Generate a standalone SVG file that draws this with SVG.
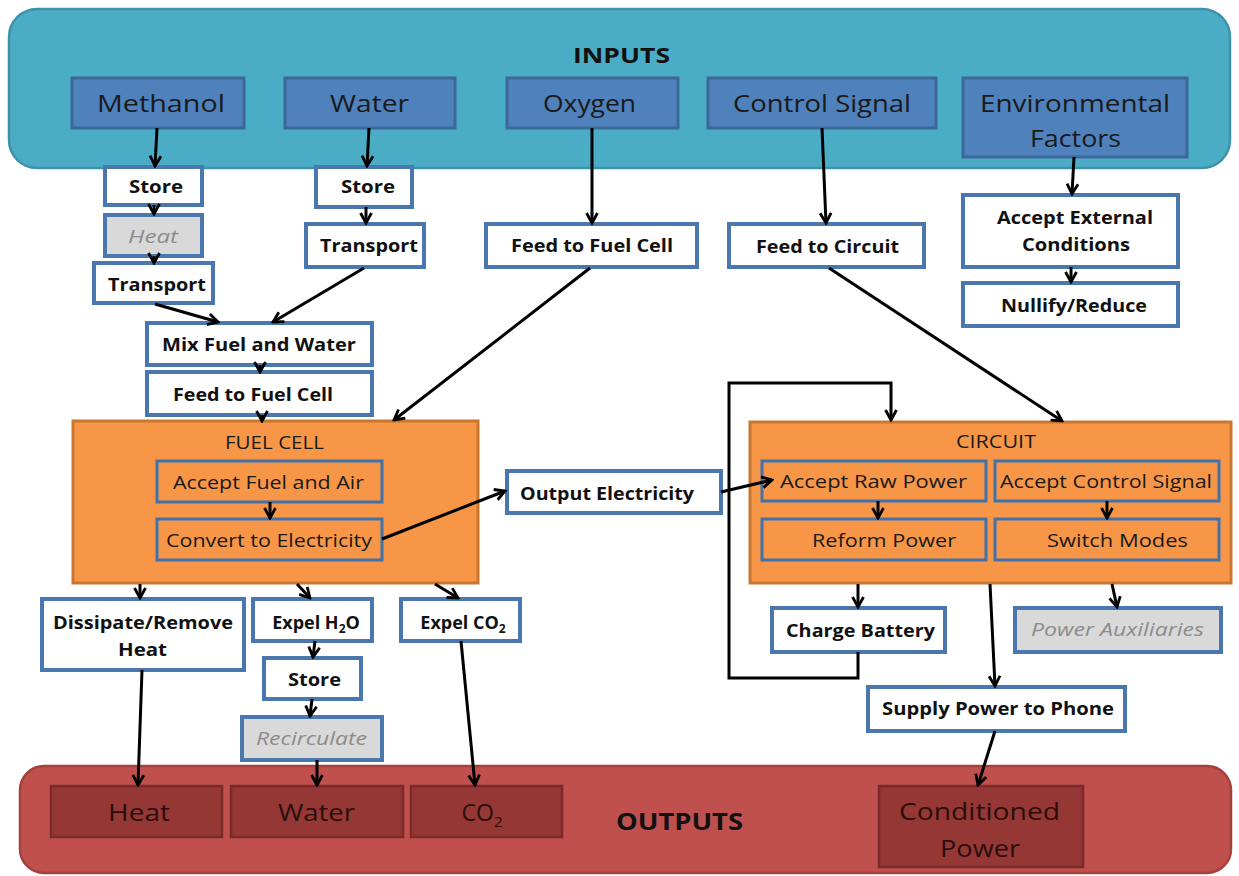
<svg xmlns="http://www.w3.org/2000/svg" width="1239" height="876" viewBox="0 0 1239 876">
<style>
.bg{fill:#fff}
.cin{fill:#4BACC6;stroke:#3E93AB;stroke-width:2.5}
.cout{fill:#C0504D;stroke:#A5403D;stroke-width:2.5}
.ib{fill:#4F81BD;stroke:#3C6799;stroke-width:3}
.pb{fill:#fff;stroke:#4A77AE;stroke-width:4}
.gb{fill:#D9D9D9;stroke:#4A77AE;stroke-width:4}
.ob{fill:#F79646;stroke:#C97730;stroke-width:3}
.sb{fill:#F79646;stroke:#4272AC;stroke-width:3}
.rb{fill:#953735;stroke:#7A2A28;stroke-width:2.5}
text{font-family:"Open Sans","Liberation Sans",sans-serif;text-anchor:middle}
.ti{font-size:22px;font-weight:bold;fill:#111}
.it{font-size:24px;fill:#1a1a1a}
.pt{font-size:18px;font-weight:bold;fill:#111}
.gt{font-size:18px;font-style:italic;fill:#8c8c8c}
.st{font-size:19px;fill:#1a1a1a}
.ht{font-size:18px;fill:#1a1a1a}
.rt{font-size:23px;fill:#2a0e0d}
.cn{fill:none;stroke:#000;stroke-width:3}
</style>
<defs>
<marker id="ah" viewBox="0 0 14 14" refX="12" refY="7" markerWidth="14" markerHeight="14" markerUnits="userSpaceOnUse" orient="auto">
<path d="M2,1.5 L12,7 L2,12.5" fill="none" stroke="#000" stroke-width="2.8"/>
</marker>
</defs>
<rect class="bg" x="0" y="0" width="1239" height="876"/>

<g id="inputs">
<rect class="cin" x="9" y="9" width="1221" height="159" rx="28"/>
<text class="ti" x="621.5" y="63" textLength="97" lengthAdjust="spacingAndGlyphs">INPUTS</text>
</g>
<g id="outputs">
<rect class="cout" x="20" y="766" width="1211" height="107" rx="24"/>
<text class="ti" x="679.5" y="830" style="font-size:24px" textLength="127" lengthAdjust="spacingAndGlyphs">OUTPUTS</text>
</g>

<g id="methanol"><rect class="ib" x="72" y="78" width="172" height="50"/><text class="it" x="161" y="112" textLength="128" lengthAdjust="spacingAndGlyphs">Methanol</text></g>
<g id="water-in"><rect class="ib" x="285" y="78" width="170" height="50"/><text class="it" x="369.5" y="112" textLength="79" lengthAdjust="spacingAndGlyphs">Water</text></g>
<g id="oxygen"><rect class="ib" x="507" y="78" width="171" height="50"/><text class="it" x="589.5" y="112" textLength="93" lengthAdjust="spacingAndGlyphs">Oxygen</text></g>
<g id="control-signal"><rect class="ib" x="708" y="78" width="228" height="50"/><text class="it" x="822" y="112" textLength="178" lengthAdjust="spacingAndGlyphs">Control Signal</text></g>
<g id="env-factors"><rect class="ib" x="963" y="78" width="224" height="79"/><text class="it" x="1075" y="112" textLength="190" lengthAdjust="spacingAndGlyphs">Environmental</text><text class="it" x="1075.5" y="147" textLength="91" lengthAdjust="spacingAndGlyphs">Factors</text></g>

<g id="store1"><rect class="pb" x="105" y="167" width="97" height="38"/><text class="pt" x="156" y="193" textLength="54" lengthAdjust="spacingAndGlyphs">Store</text></g>
<g id="heat1"><rect class="gb" x="105" y="215" width="97" height="41"/><text class="gt" x="153" y="243" textLength="50" lengthAdjust="spacingAndGlyphs">Heat</text></g>
<g id="transport1"><rect class="pb" x="94" y="263" width="119" height="40"/><text class="pt" x="157" y="291" textLength="98" lengthAdjust="spacingAndGlyphs">Transport</text></g>
<g id="store2"><rect class="pb" x="316" y="167" width="96" height="40"/><text class="pt" x="368" y="193" textLength="54" lengthAdjust="spacingAndGlyphs">Store</text></g>
<g id="transport2"><rect class="pb" x="306" y="224" width="118" height="43"/><text class="pt" x="369" y="252" textLength="98" lengthAdjust="spacingAndGlyphs">Transport</text></g>
<g id="feed-fc1"><rect class="pb" x="486" y="224" width="211" height="43"/><text class="pt" x="592" y="252" textLength="162" lengthAdjust="spacingAndGlyphs">Feed to Fuel Cell</text></g>
<g id="feed-circuit"><rect class="pb" x="729" y="224" width="195" height="43"/><text class="pt" x="827.5" y="253" textLength="143" lengthAdjust="spacingAndGlyphs">Feed to Circuit</text></g>
<g id="accept-ext"><rect class="pb" x="963" y="195" width="215" height="72"/><text class="pt" x="1075" y="224" textLength="156" lengthAdjust="spacingAndGlyphs">Accept External</text><text class="pt" x="1076" y="251" textLength="108" lengthAdjust="spacingAndGlyphs">Conditions</text></g>
<g id="nullify"><rect class="pb" x="963" y="283" width="215" height="43"/><text class="pt" x="1074" y="312" textLength="146" lengthAdjust="spacingAndGlyphs">Nullify/Reduce</text></g>
<g id="mix"><rect class="pb" x="147" y="323" width="225" height="42"/><text class="pt" x="259" y="351" textLength="194" lengthAdjust="spacingAndGlyphs">Mix Fuel and Water</text></g>
<g id="feed-fc2"><rect class="pb" x="147" y="372" width="225" height="43"/><text class="pt" x="253" y="401" textLength="160" lengthAdjust="spacingAndGlyphs">Feed to Fuel Cell</text></g>

<g id="fuel-cell">
<rect class="ob" x="73" y="421" width="405" height="162"/>
<text class="ht" x="274.5" y="449" textLength="99" lengthAdjust="spacingAndGlyphs">FUEL CELL</text>
</g>
<g id="accept-fuel"><rect class="sb" x="157" y="461" width="225" height="41"/><text class="st" x="268.5" y="489" textLength="191" lengthAdjust="spacingAndGlyphs">Accept Fuel and Air</text></g>
<g id="convert"><rect class="sb" x="157" y="519" width="225" height="41"/><text class="st" x="269" y="547" textLength="206" lengthAdjust="spacingAndGlyphs">Convert to Electricity</text></g>
<g id="output-elec"><rect class="pb" x="507" y="471" width="214" height="42"/><text class="pt" x="607" y="500" textLength="174" lengthAdjust="spacingAndGlyphs">Output Electricity</text></g>

<g id="circuit">
<rect class="ob" x="750" y="422" width="481" height="161"/>
<text class="ht" x="996" y="448" textLength="80" lengthAdjust="spacingAndGlyphs">CIRCUIT</text>
</g>
<g id="accept-raw"><rect class="sb" x="762" y="461" width="224" height="40"/><text class="st" x="873.5" y="488" textLength="187" lengthAdjust="spacingAndGlyphs">Accept Raw Power</text></g>
<g id="accept-ctrl"><rect class="sb" x="995" y="461" width="224" height="40"/><text class="st" x="1106" y="488" textLength="212" lengthAdjust="spacingAndGlyphs">Accept Control Signal</text></g>
<g id="reform"><rect class="sb" x="762" y="519" width="224" height="41"/><text class="st" x="884" y="547" textLength="144" lengthAdjust="spacingAndGlyphs">Reform Power</text></g>
<g id="switch"><rect class="sb" x="995" y="519" width="224" height="41"/><text class="st" x="1117.5" y="547" textLength="141" lengthAdjust="spacingAndGlyphs">Switch Modes</text></g>

<g id="dissipate"><rect class="pb" x="42" y="599" width="202" height="71"/><text class="pt" x="143" y="629" textLength="180" lengthAdjust="spacingAndGlyphs">Dissipate/Remove</text><text class="pt" x="142.5" y="656" textLength="49" lengthAdjust="spacingAndGlyphs">Heat</text></g>
<g id="expel-h2o"><rect class="pb" x="253" y="599" width="119" height="42"/><text class="pt" x="316" y="629">Expel H<tspan font-size="12" dy="4">2</tspan><tspan dy="-4">O</tspan></text></g>
<g id="expel-co2"><rect class="pb" x="401" y="599" width="119" height="42"/><text class="pt" x="463" y="629">Expel CO<tspan font-size="12" dy="4">2</tspan></text></g>
<g id="store3"><rect class="pb" x="264" y="658" width="97" height="41"/><text class="pt" x="314.5" y="686" textLength="53" lengthAdjust="spacingAndGlyphs">Store</text></g>
<g id="recirculate"><rect class="gb" x="242" y="717" width="140" height="43"/><text class="gt" x="311.5" y="745" textLength="111" lengthAdjust="spacingAndGlyphs">Recirculate</text></g>
<g id="charge-battery"><rect class="pb" x="772" y="608" width="173" height="44"/><text class="pt" x="860.5" y="637" textLength="149" lengthAdjust="spacingAndGlyphs">Charge Battery</text></g>
<g id="power-aux"><rect class="gb" x="1015" y="608" width="206" height="44"/><text class="gt" x="1117.5" y="636" textLength="173" lengthAdjust="spacingAndGlyphs">Power Auxiliaries</text></g>
<g id="supply-power"><rect class="pb" x="868" y="687" width="257" height="44"/><text class="pt" x="998" y="715" textLength="232" lengthAdjust="spacingAndGlyphs">Supply Power to Phone</text></g>

<g id="heat-out"><rect class="rb" x="51" y="786" width="171" height="51"/><text class="rt" x="139" y="821" textLength="62" lengthAdjust="spacingAndGlyphs">Heat</text></g>
<g id="water-out"><rect class="rb" x="231" y="786" width="172" height="51"/><text class="rt" x="316.5" y="821" textLength="77" lengthAdjust="spacingAndGlyphs">Water</text></g>
<g id="co2-out"><rect class="rb" x="411" y="786" width="151" height="51"/><text class="rt" x="482" y="821">CO<tspan font-size="15" dy="6">2</tspan></text></g>
<g id="conditioned-power"><rect class="rb" x="879" y="786" width="204" height="81"/><text class="rt" x="979.5" y="820" textLength="161" lengthAdjust="spacingAndGlyphs">Conditioned</text><text class="rt" x="980" y="857" textLength="80" lengthAdjust="spacingAndGlyphs">Power</text></g>

<g id="connectors" marker-end="url(#ah)">
<path class="cn" d="M157,128 L155,166"/>
<path class="cn" d="M154,205 L154,214"/>
<path class="cn" d="M154,256 L154,263"/>
<path class="cn" d="M369,128 L367,166"/>
<path class="cn" d="M366,207 L366,223"/>
<path class="cn" d="M592,128 L592,223"/>
<path class="cn" d="M822,128 L826,223"/>
<path class="cn" d="M1074,157 L1072,194"/>
<path class="cn" d="M1071,267 L1071,282"/>
<path class="cn" d="M155,304 L218,322"/>
<path class="cn" d="M364,268 L273,322"/>
<path class="cn" d="M260,365 L260,372"/>
<path class="cn" d="M262,415 L262,421"/>
<path class="cn" d="M590,268 L394,420"/>
<path class="cn" d="M829,268 L1062,421"/>
<path class="cn" d="M270,502 L270,518"/>
<path class="cn" d="M382,539 L505,491"/>
<path class="cn" d="M721,492 L772,480"/>
<path class="cn" d="M878,501 L878,518"/>
<path class="cn" d="M1107,501 L1107,518"/>
<path class="cn" d="M858,652 L858,678 L729,678 L729,383 L891,383 L891,420"/>
<path class="cn" d="M858,584 L858,607"/>
<path class="cn" d="M990,584 L995,686"/>
<path class="cn" d="M1112,584 L1117,607"/>
<path class="cn" d="M995,731 L978,785"/>
<path class="cn" d="M140,584 L140,598"/>
<path class="cn" d="M297,584 L310,598"/>
<path class="cn" d="M435,584 L458,598"/>
<path class="cn" d="M315,641 L313,657"/>
<path class="cn" d="M312,699 L310,716"/>
<path class="cn" d="M142,670 L138,785"/>
<path class="cn" d="M317,760 L317,785"/>
<path class="cn" d="M461,641 L475,785"/>
</g>
</svg>
